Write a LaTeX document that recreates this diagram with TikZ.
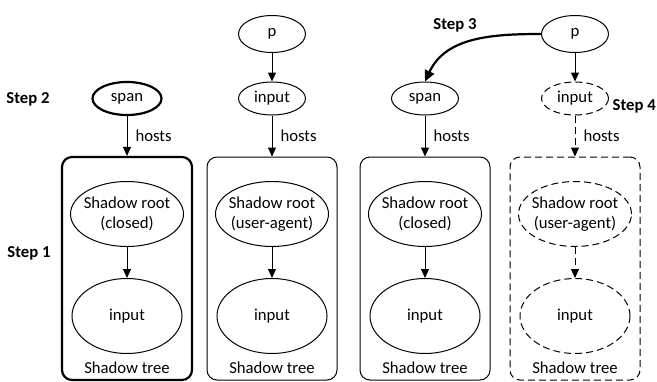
\documentclass[tikz,border=0pt]{standalone}
\usepackage{fontspec}
\setmainfont{Carlito}
\usetikzlibrary{shapes.geometric,arrows.meta}
\begin{document}
\begin{tikzpicture}[x=1pt,y=-1pt,
  font=\fontsize{16.7}{20}\selectfont,
  el/.style={draw, ellipse, inner sep=-25pt, line width=1pt, align=center},
  tbox/.style={draw, rounded corners=10pt, line width=1pt, inner sep=0pt, minimum width=130pt, minimum height=223pt},
  arr/.style={-{Triangle[length=9pt,width=8pt]}, line width=1pt},
  dsh/.style={dash pattern=on 7pt off 4pt},
  heavy/.style={line width=2.2pt},
  lbl/.style={anchor=west, inner sep=0pt},
  steplbl/.style={font=\fontsize{16.7}{20}\selectfont\bfseries, inner sep=0pt}
]
\useasboundingbox (0,0) rectangle (657,381);

% column 1
\node[el, heavy, minimum width=69pt, minimum height=33pt] (s1) at (127,98.5) {span};
\node[tbox, heavy] (b1) at (127,268.5) {};
\node[el, minimum width=113pt, minimum height=65pt] (r1) at (127,214) {Shadow root\\(closed)};
\node[el, minimum width=110pt, minimum height=75pt] (i1) at (127,316) {input};
\node[inner sep=0pt] (t1) at (127,368) {Shadow tree};
\draw[arr] (s1.south) -- (b1.north) node[lbl, pos=0.5, xshift=8pt] (h1) {hosts};
\draw[arr] (r1.south) -- (i1.north);

% column 2
\node[el, minimum width=67pt, minimum height=37pt] (p2) at (272,34) {p};
\node[el, minimum width=67pt, minimum height=33pt] (n2) at (272,98.5) {input};
\node[tbox] (b2) at (272,268.5) {};
\node[el, minimum width=113pt, minimum height=65pt] (r2) at (272,214) {Shadow root\\(user-agent)};
\node[el, minimum width=110pt, minimum height=75pt] (i2) at (272,316) {input};
\node[inner sep=0pt] (t2) at (272,368) {Shadow tree};
\draw[arr] (p2.south) -- (n2.north);
\draw[arr] (n2.south) -- (b2.north) node[lbl, pos=0.5, xshift=8pt] (h2) {hosts};
\draw[arr] (r2.south) -- (i2.north);

% column 3
\node[el, minimum width=67pt, minimum height=33pt] (s3) at (425,98.5) {span};
\node[tbox] (b3) at (425,268.5) {};
\node[el, minimum width=113pt, minimum height=65pt] (r3) at (425,214) {Shadow root\\(closed)};
\node[el, minimum width=110pt, minimum height=75pt] (i3) at (425,316) {input};
\node[inner sep=0pt] (t3) at (425,368) {Shadow tree};
\draw[arr] (s3.south) -- (b3.north) node[lbl, pos=0.5, xshift=8pt] (h3) {hosts};
\draw[arr] (r3.south) -- (i3.north);

% column 4
\node[el, minimum width=67pt, minimum height=37pt] (p4) at (575,34) {p};
\node[el, dsh, minimum width=67pt, minimum height=33pt] (n4) at (575,98.5) {input};
\node[tbox, dsh] (b4) at (575,268.5) {};
\node[el, dsh, minimum width=113pt, minimum height=65pt] (r4) at (575,214) {Shadow root\\(user-agent)};
\node[el, dsh, minimum width=110pt, minimum height=75pt] (i4) at (575,316) {input};
\node[inner sep=0pt] (t4) at (575,368) {Shadow tree};
\draw[arr] (p4.south) -- (n4.north);
\draw[arr, dsh] (n4.south) -- (b4.north) node[lbl, pos=0.5, xshift=8pt] (h4) {hosts};
\draw[arr, dsh] (r4.south) -- (i4.north);

% step 3 curve
\draw[-{Triangle[length=11pt,width=10pt]}, heavy] (p4.west) to[out=180, in=65] (s3.north);

% step labels
\node[steplbl] (st1) at (29,253) {Step 1};
\node[steplbl] (st2) at (28,99) {Step 2};
\node[steplbl] (st3) at (455,25) {Step 3};
\node[steplbl, anchor=east] (st4) at (656,106) {Step 4};
\end{tikzpicture}
\end{document}
